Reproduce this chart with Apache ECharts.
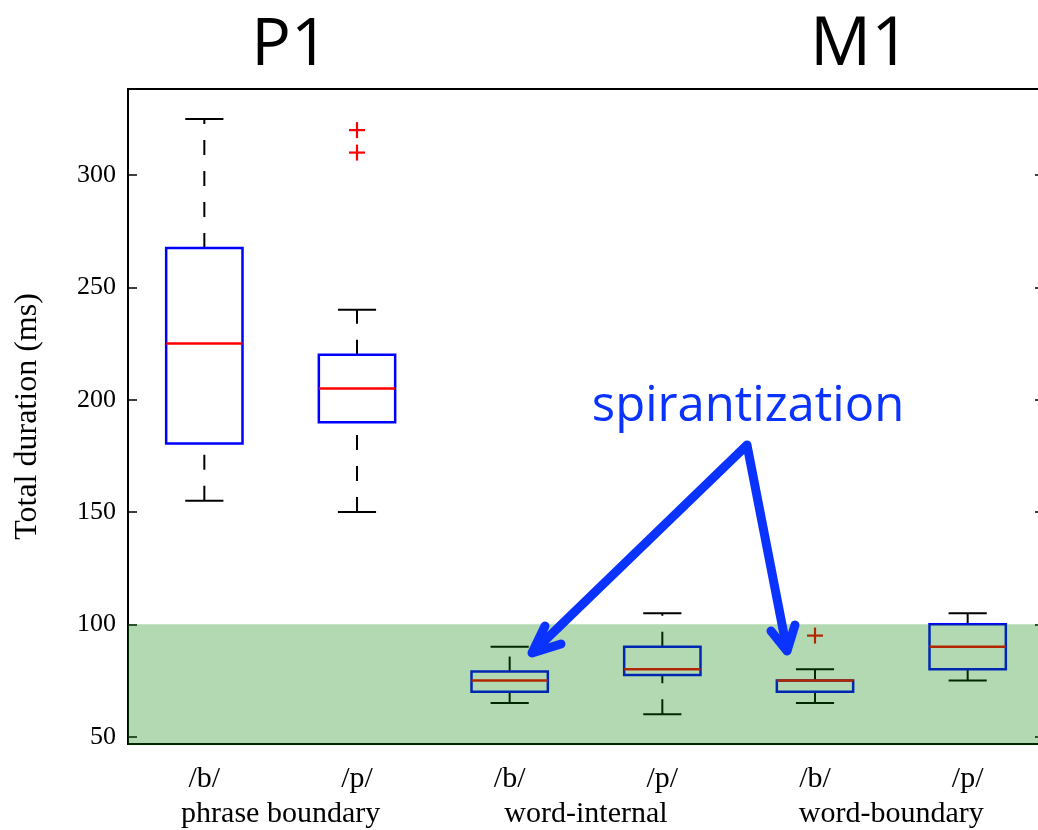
<!DOCTYPE html>
<html>
<head>
<meta charset="utf-8">
<script src="https://cdn.jsdelivr.net/npm/echarts@6/dist/echarts.min.js"></script>
<style>
  html, body { margin: 0; padding: 0; background: #fff; }
  #chart { width: 1038px; height: 830px; }
</style>
</head>
<body>
<div id="chart"></div>
<script>
// tick labels / categories
const phonemes = ['/b/', '/p/', '/b/', '/p/', '/b/', '/p/'];
const contexts = ['phrase boundary', 'word-internal', 'word-boundary'];
const yTicks = [50, 100, 150, 200, 250, 300];

// box stats per category: [lower whisker, q1, median, q3, upper whisker]
const boxStats = [
  [155, 180.5, 225, 267.5, 325],
  [150, 190, 205, 220, 240],
  [65, 70, 75, 79, 90],
  [60, 77.5, 80, 90, 105],
  [65, 70, 75, 75, 80],
  [75, 80, 90, 100, 105]
];
// [category index, value]
const outliers = [[1, 310], [1, 320], [4, 95]];
// shaded band goes from the axis bottom up to this value
const shadeTop = 100;

const serif = 'Liberation Serif';
const sans = 'Open Sans';
const arrowBlue = '#0b33ff';

function renderBox(params, api) {
  const i = api.value(0);
  const x = api.coord([i, 0])[0];
  const band = api.size([1, 0])[0];
  const hw = band * 0.25;   // half box width
  const cw = band * 0.125;  // half cap width
  const y = v => api.coord([i, v])[1];
  const lo = y(api.value(1)), q1 = y(api.value(2)), med = y(api.value(3)),
        q3 = y(api.value(4)), hi = y(api.value(5));
  const dash = { stroke: '#000', lineWidth: 2, lineDash: [15, 16] };
  const solid = { stroke: '#000', lineWidth: 2 };
  return {
    type: 'group',
    children: [
      // whiskers are drawn bottom-up so the dash pattern starts at the lower end
      { type: 'line', shape: { x1: x, y1: q3, x2: x, y2: hi }, style: dash },
      { type: 'line', shape: { x1: x, y1: lo, x2: x, y2: q1 }, style: dash },
      { type: 'line', shape: { x1: x - cw, y1: hi, x2: x + cw, y2: hi }, style: solid },
      { type: 'line', shape: { x1: x - cw, y1: lo, x2: x + cw, y2: lo }, style: solid },
      { type: 'rect', shape: { x: x - hw, y: q3, width: hw * 2, height: q1 - q3 },
        style: { fill: 'none', stroke: '#0000ff', lineWidth: 2.5 } },
      { type: 'line', shape: { x1: x - hw, y1: med, x2: x + hw, y2: med },
        style: { stroke: '#ff0000', lineWidth: 2.5 } }
    ]
  };
}

function renderOutlier(params, api) {
  const p = api.coord([api.value(0), api.value(1)]);
  const s = 8;
  const st = { stroke: '#ff0000', lineWidth: 2.2 };
  return {
    type: 'group',
    children: [
      { type: 'line', shape: { x1: p[0] - s, y1: p[1], x2: p[0] + s, y2: p[1] }, style: st },
      { type: 'line', shape: { x1: p[0], y1: p[1] - s, x2: p[0], y2: p[1] + s }, style: st }
    ]
  };
}

function renderShade(params, api) {
  const cs = params.coordSys;
  const top = api.coord([0, api.value(1)])[1];
  return {
    type: 'rect',
    shape: { x: cs.x, y: top, width: cs.width, height: cs.y + cs.height - top + 1 },
    style: { fill: 'rgba(0,128,0,0.3)' }
  };
}

const chart = echarts.init(document.getElementById('chart'));

const option = {
  animation: false,
  grid: [
    { left: 128, top: 89, width: 916, height: 655, show: true, outerBoundsMode: 'none',
      borderColor: '#000', borderWidth: 2, backgroundColor: 'transparent' },
    { left: 128, top: 89, width: 916, height: 655, show: false, outerBoundsMode: 'none' }
  ],
  xAxis: [
    {
      type: 'category', gridIndex: 0, data: phonemes,
      axisLine: { show: false }, axisTick: { show: false },
      axisLabel: { color: '#000', fontFamily: serif, fontSize: 30, margin: 20 }
    },
    {
      type: 'category', gridIndex: 1, data: contexts, position: 'bottom',
      axisLine: { show: false }, axisTick: { show: false },
      axisLabel: { color: '#000', fontFamily: serif, fontSize: 30, margin: 55 }
    }
  ],
  yAxis: [
    {
      type: 'value', gridIndex: 0, min: 46.75, max: 338.3,
      name: 'Total duration (ms)', nameLocation: 'middle', nameGap: 84,
      nameTextStyle: { color: '#000', fontFamily: serif, fontSize: 32 },
      axisLine: { show: false },
      axisTick: { show: true, inside: true, length: 9, customValues: yTicks,
        lineStyle: { color: '#000', width: 1.5 } },
      axisLabel: { color: '#000', fontFamily: serif, fontSize: 26, margin: 12, customValues: yTicks },
      splitLine: { show: false }
    },
    {
      type: 'value', gridIndex: 0, position: 'right', min: 46.75, max: 338.3,
      axisLine: { show: false },
      axisTick: { show: true, inside: true, length: 9, customValues: yTicks,
        lineStyle: { color: '#000', width: 1.5 } },
      axisLabel: { show: false },
      splitLine: { show: false }
    },
    { type: 'value', gridIndex: 1, show: false }
  ],
  series: [
    {
      type: 'custom', xAxisIndex: 0, yAxisIndex: 0, z: 2, silent: true,
      renderItem: renderBox,
      encode: { x: 0, y: [1, 2, 3, 4, 5] },
      data: boxStats.map((s, i) => [i].concat(s))
    },
    {
      type: 'custom', xAxisIndex: 0, yAxisIndex: 0, z: 3, silent: true,
      renderItem: renderOutlier,
      encode: { x: 0, y: 1 },
      data: outliers
    },
    {
      type: 'custom', xAxisIndex: 0, yAxisIndex: 0, z: 10, silent: true,
      renderItem: renderShade,
      encode: { x: 0, y: 1 },
      data: [[0, shadeTop]]
    }
  ],
  graphic: [
    { type: 'text', x: 290, y: 46, z: 100,
      style: { text: 'P1', fontFamily: sans, fontSize: 66, fill: '#000', align: 'center', verticalAlign: 'middle' } },
    { type: 'text', x: 860, y: 46, z: 100,
      style: { text: 'M1', fontFamily: sans, fontSize: 68, fill: '#000', align: 'center', verticalAlign: 'middle' } },
    { type: 'text', x: 748, y: 407, z: 100,
      style: { text: 'spirantization', fontFamily: sans, fontSize: 49, fill: arrowBlue, align: 'center', verticalAlign: 'middle' } },
    { type: 'polyline', z: 100,
      shape: { points: [[533, 652], [747, 445], [787, 650]] },
      style: { stroke: arrowBlue, lineWidth: 9, lineJoin: 'round', lineCap: 'round', fill: null } },
    { type: 'polyline', z: 100,
      shape: { points: [[545, 626], [532, 653], [561, 644]] },
      style: { stroke: arrowBlue, lineWidth: 9, lineJoin: 'round', lineCap: 'round', fill: null } },
    { type: 'polyline', z: 100,
      shape: { points: [[771, 631], [787, 651], [795, 625]] },
      style: { stroke: arrowBlue, lineWidth: 9, lineJoin: 'round', lineCap: 'round', fill: null } }
  ]
};

chart.setOption(option);
</script>
</body>
</html>
